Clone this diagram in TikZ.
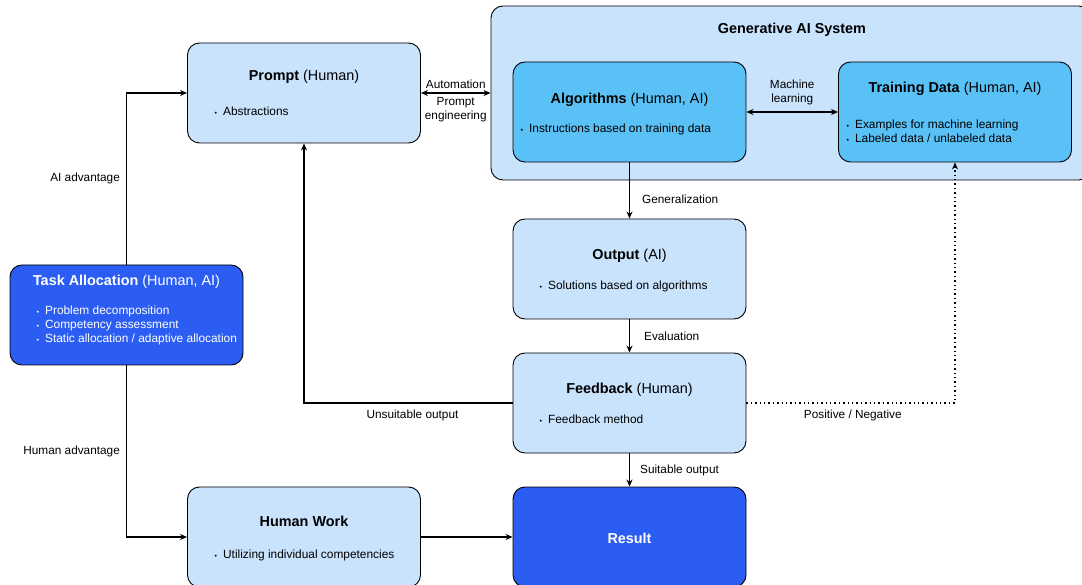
\documentclass[tikz,border=0pt]{standalone}
\usepackage{fontspec}
\setmainfont{Liberation Sans}
\usepackage{xcolor}
\usetikzlibrary{arrows.meta}
\definecolor{paleblue}{HTML}{C9E3FD}
\definecolor{skyblue}{HTML}{5AC1F6}
\definecolor{royalblue}{HTML}{2B5DF2}
\newcommand{\btitle}[5]{\node[font=\fontsize{14.4}{17}\selectfont,#5] (#1) at (#2,#3) {#4};}
\newcommand{\bpoints}[5]{\node[anchor=west,align=left,inner sep=0pt,font=\fontsize{11.9}{14}\selectfont,#5] (#1) at (#2,#3) {#4};}
\newcommand{\blt}{{\scriptsize\textbullet}\hspace{6pt}}

\begin{document}
\begin{tikzpicture}[x=1pt,y=-1pt,line width=1.3pt,
  box/.style={draw=black,line width=0.9pt,rounded corners=12pt,fill=paleblue,
    inner sep=0pt,minimum width=233pt,minimum height=100pt},
  lbl/.style={font=\fontsize{11.8}{14}\selectfont,inner sep=2pt},
  arr/.style={-{Stealth[length=7pt,width=6pt]}},
  dbl/.style={{Stealth[length=7pt,width=6pt]}-{Stealth[length=7pt,width=6pt]}}]
\useasboundingbox (0,0) rectangle (1082,585);
\clip (0,0) rectangle (1082,585);

% boxes
\node[box,minimum width=600pt,minimum height=174pt] (genai) at (791,93) {};
\node[box,fill=royalblue] (task) at (126.5,315) {};
\node[box] (prompt) at (304,93) {};
\node[box,fill=skyblue] (algo) at (629.5,112) {};
\node[box,fill=skyblue] (train) at (955,112) {};
\node[box] (output) at (629.5,269) {};
\node[box] (feedback) at (629.5,403) {};
\node[box] (hwork) at (304,537) {};
\node[box,fill=royalblue] (result) at (629.5,537) {};

% texts
\btitle{tgenai}{792}{30}{\textbf{Generative AI System}}{}
\btitle{ttask}{126.5}{282}{\textbf{Task Allocation} (Human, AI)}{text=white}
\bpoints{ptask}{36}{325}{\blt Problem decomposition\\\blt Competency assessment\\\blt Static allocation / adaptive allocation}{text=white}
\btitle{tprompt}{304}{77}{\textbf{Prompt} (Human)}{}
\bpoints{pprompt}{214}{111}{\blt Abstractions}{}
\btitle{talgo}{629.5}{100}{\textbf{Algorithms} (Human, AI)}{}
\bpoints{palgo}{520}{129}{\blt Instructions based on training data}{}
\btitle{ttrain}{955}{89}{\textbf{Training Data} (Human, AI)}{}
\bpoints{ptrain}{846}{131}{\blt Examples for machine learning\\\blt Labeled data / unlabeled data}{}
\btitle{toutput}{629.5}{256}{\textbf{Output} (AI)}{}
\bpoints{poutput}{539}{286}{\blt Solutions based on algorithms}{}
\btitle{tfeedback}{629.5}{390}{\textbf{Feedback} (Human)}{}
\bpoints{pfeedback}{539}{419}{\blt Feedback method}{}
\btitle{thwork}{304}{521}{\textbf{Human Work}}{}
\bpoints{phwork}{214}{555}{\blt Utilizing individual competencies}{}
\btitle{tresult}{629.5}{538}{\textbf{Result}}{text=white}

% connectors
\draw[arr] (task.north) |- node[lbl,left=4pt,pos=0.25] (aiadv) {AI advantage} (prompt.west);
\draw[arr] (task.south) |- node[lbl,left=4pt,pos=0.25] (humadv) {Human advantage} (hwork.west);
\draw[dbl] (prompt.east) -- node[lbl,above=2pt] (autom) {Automation}
  node[lbl,below=2pt,align=center] (prompteng) {Prompt\\engineering} (genai.west);
\draw[dbl] (algo.east) -- node[lbl,above=4pt,align=center] (mlearn) {Machine\\learning} (train.west);
\draw[arr] (algo.south) -- node[lbl,right=10pt,pos=0.66] (general) {Generalization} (output.north);
\draw[arr] (output.south) -- node[lbl,right=12pt] (evaluat) {Evaluation} (feedback.north);
\draw[arr] (feedback.west) -| node[lbl,below=4pt,pos=0.24] (unsuit) {Unsuitable output} (prompt.south);
\draw[arr,dash pattern=on 1.4pt off 3pt] (feedback.east) -| node[lbl,below=4pt,pos=0.255] (posneg) {Positive / Negative} (train.south);
\draw[arr] (feedback.south) -- node[lbl,right=8pt] (suit) {Suitable output} (result.north);
\draw[arr] (hwork.east) -- (result.west);
\end{tikzpicture}
\end{document}
